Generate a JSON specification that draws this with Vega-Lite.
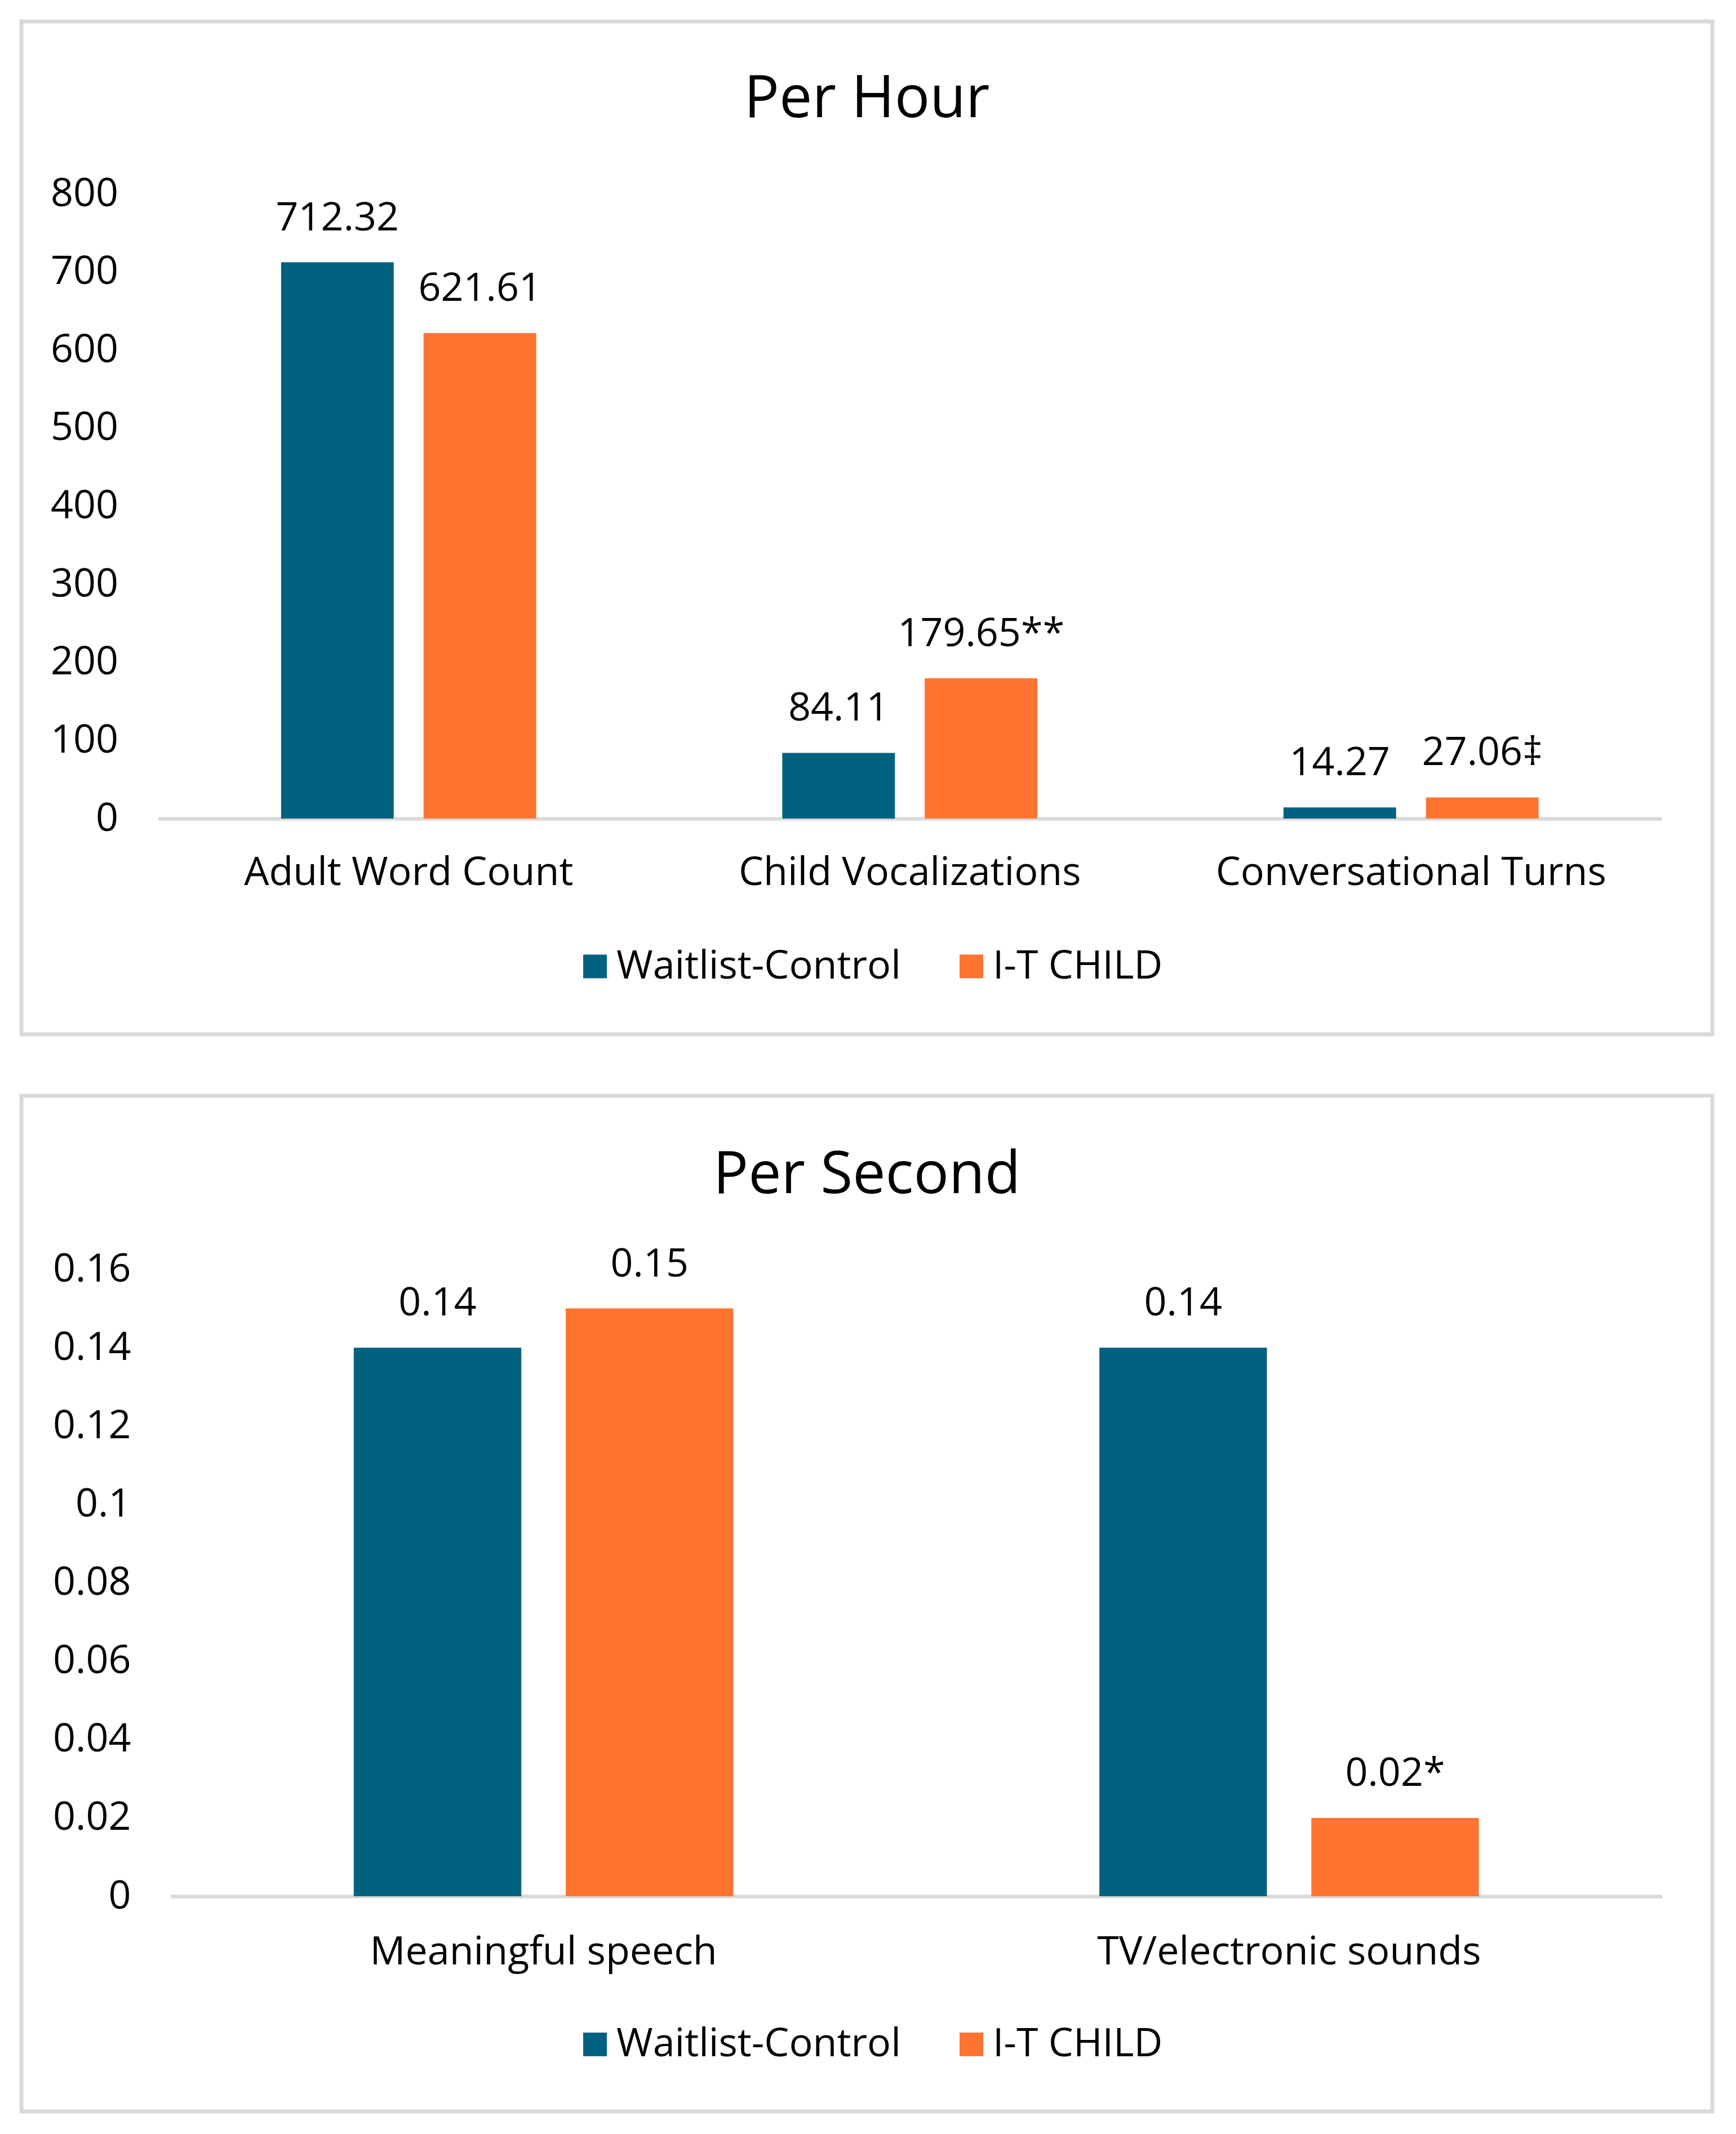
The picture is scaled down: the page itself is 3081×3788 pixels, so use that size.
{
  "$schema": "https://vega.github.io/schema/vega-lite/v6.json",
  "background": "white",
  "padding": {"left": 34, "top": 34, "right": 20, "bottom": 20},
  "spacing": 101,
  "config": {
    "view": {"stroke": "#D9D9D9", "strokeWidth": 7},
    "font": "Open Sans",
    "axis": {
      "labelFont": "Open Sans",
      "labelFontSize": 70,
      "labelColor": "#000000",
      "labelLimit": 0,
      "ticks": false,
      "tickSize": 0,
      "grid": false
    },
    "legend": {
      "labelFont": "Open Sans",
      "labelFontSize": 70,
      "labelColor": "#000000",
      "labelLimit": 0,
      "symbolType": "square",
      "symbolSize": 1764,
      "symbolStrokeWidth": 0,
      "labelOffset": 3,
      "columnPadding": 90
    }
  },
  "resolve": {
    "scale": {"x": "independent", "y": "independent", "xOffset": "independent", "color": "independent"},
    "legend": {"color": "independent"}
  },
  "vconcat": [
    {
      "width": 3001,
      "height": 1798,
      "title": {"text": "Per Hour", "fontSize": 104, "fontWeight": "normal", "color": "#000000", "anchor": "middle", "frame": "group", "offset": -274, "baseline": "alphabetic"},
      "data": {"values": [
        {"measure": "Adult Word Count", "group": "Waitlist-Control", "value": 712.32, "label": "712.32"},
        {"measure": "Adult Word Count", "group": "I-T CHILD", "value": 621.61, "label": "621.61"},
        {"measure": "Child Vocalizations", "group": "Waitlist-Control", "value": 84.11, "label": "84.11"},
        {"measure": "Child Vocalizations", "group": "I-T CHILD", "value": 179.65, "label": "179.65**"},
        {"measure": "Conversational Turns", "group": "Waitlist-Control", "value": 14.27, "label": "14.27"},
        {"measure": "Conversational Turns", "group": "I-T CHILD", "value": 27.06, "label": "27.06‡"}
      ]},
      "encoding": {
        "x": {
          "field": "measure", "type": "nominal", "title": null,
          "scale": {"domain": ["Adult Word Count", "Child Vocalizations", "Conversational Turns"], "range": [242.5, 2911], "paddingInner": 0.491, "paddingOuter": 0.2455},
          "axis": {"orient": "bottom", "offset": -383, "labelAngle": 0, "labelPadding": 62, "domainColor": "#D9D9D9", "domainWidth": 6.5}
        },
        "xOffset": {
          "field": "group", "type": "nominal",
          "scale": {"domain": ["Waitlist-Control", "I-T CHILD"], "paddingInner": 0.2095, "paddingOuter": 0}
        },
        "y": {
          "field": "value", "type": "quantitative", "title": null,
          "scale": {"domain": [0, 800], "range": [1415, 306], "nice": false},
          "axis": {"offset": -242.5, "values": [0, 100, 200, 300, 400, 500, 600, 700, 800], "domain": false, "labelPadding": 71}
        }
      },
      "layer": [
        {
          "mark": {"type": "bar"},
          "encoding": {
            "color": {
              "field": "group", "type": "nominal",
              "scale": {"domain": ["Waitlist-Control", "I-T CHILD"], "range": ["#02617F", "#FE7430"]},
              "legend": {"title": null, "orient": "none", "direction": "horizontal", "legendX": 983, "legendY": 1642.5}
            }
          }
        },
        {
          "mark": {"type": "text", "dy": -57, "baseline": "alphabetic", "fontSize": 70, "color": "#000000"},
          "encoding": {"text": {"field": "label"}}
        }
      ]
    },
    {
      "width": 3001,
      "height": 1803,
      "title": {"text": "Per Second", "fontSize": 104, "fontWeight": "normal", "color": "#000000", "anchor": "middle", "frame": "group", "offset": -277, "baseline": "alphabetic"},
      "data": {"values": [
        {"measure": "Meaningful speech", "group": "Waitlist-Control", "value": 0.14, "label": "0.14"},
        {"measure": "Meaningful speech", "group": "I-T CHILD", "value": 0.15, "label": "0.15"},
        {"measure": "TV/electronic sounds", "group": "Waitlist-Control", "value": 0.14, "label": "0.14"},
        {"measure": "TV/electronic sounds", "group": "I-T CHILD", "value": 0.02, "label": "0.02*"}
      ]},
      "encoding": {
        "x": {
          "field": "measure", "type": "nominal", "title": null,
          "scale": {"domain": ["Meaningful speech", "TV/electronic sounds"], "range": [265, 2911.5], "paddingInner": 0.491, "paddingOuter": 0.2455},
          "axis": {"orient": "bottom", "offset": -382, "labelAngle": 0, "labelPadding": 65, "domainColor": "#D9D9D9", "domainWidth": 6.5}
        },
        "xOffset": {
          "field": "group", "type": "nominal",
          "scale": {"domain": ["Waitlist-Control", "I-T CHILD"], "paddingInner": 0.2095, "paddingOuter": 0}
        },
        "y": {
          "field": "value", "type": "quantitative", "title": null,
          "scale": {"domain": [0, 0.16], "range": [1421, 308], "nice": false},
          "axis": {"offset": -265, "values": [0, 0.02, 0.04, 0.06, 0.08, 0.1, 0.12, 0.14, 0.16], "format": "~f", "domain": false, "labelPadding": 71}
        }
      },
      "layer": [
        {
          "mark": {"type": "bar"},
          "encoding": {
            "color": {
              "field": "group", "type": "nominal",
              "scale": {"domain": ["Waitlist-Control", "I-T CHILD"], "range": ["#02617F", "#FE7430"]},
              "legend": {"title": null, "orient": "none", "direction": "horizontal", "legendX": 983, "legendY": 1649}
            }
          }
        },
        {
          "mark": {"type": "text", "dy": -57, "baseline": "alphabetic", "fontSize": 70, "color": "#000000"},
          "encoding": {"text": {"field": "label"}}
        }
      ]
    }
  ]
}
